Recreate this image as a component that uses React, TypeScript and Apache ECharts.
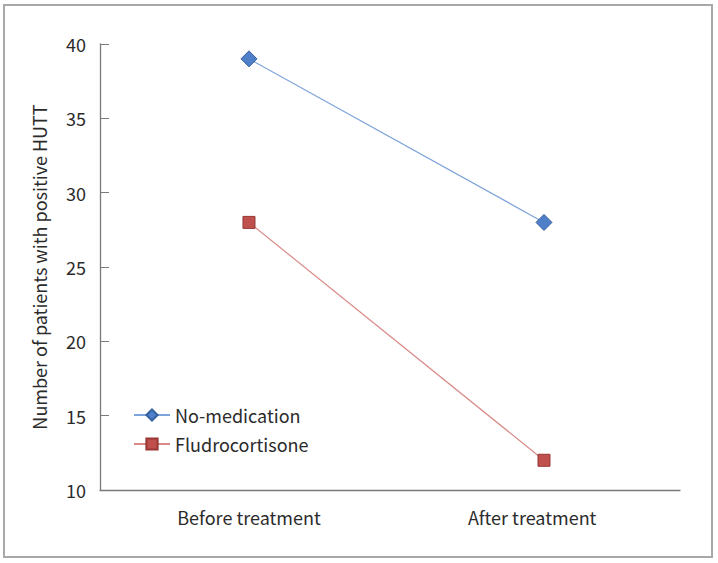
import React, { useEffect, useRef } from "react";
import * as echarts from "echarts";

const categories = ["Before treatment", "After treatment"];
const noMedication = [39, 28];
const fludrocortisone = [28, 12];
const yTicks = [10, 15, 20, 25, 30, 35, 40];
const labelPositions = [0, 0.96];

const FONT = "'Noto Sans CJK KR', 'Noto Sans', sans-serif";

export default function App() {
  const ref = useRef<HTMLDivElement>(null);
  useEffect(() => {
    if (!ref.current) return;
    const chart = echarts.init(ref.current, null, { renderer: "svg" });
    const toPts = (arr: number[]) => arr.map((v, i) => [i, v]);
    chart.setOption({
      animation: false,
      backgroundColor: "#ffffff",
      textStyle: { fontFamily: FONT },
      graphic: [
        {
          type: "rect",
          shape: { x: 4, y: 5, width: 708, height: 552 },
          style: { fill: "none", stroke: "#a8a8a8", lineWidth: 2 },
          silent: true,
        },
      ],
      grid: { left: 100, right: 38, top: 44, bottom: 73 },
      legend: {
        orient: "vertical",
        left: 128,
        top: 401,
        itemWidth: 36,
        itemHeight: 14,
        itemGap: 11,
        textStyle: { fontSize: 18, color: "#2b2b2b", fontFamily: FONT },
        data: ["No-medication", "Fludrocortisone"],
      },
      xAxis: {
        type: "value",
        min: -0.505,
        max: 1.461,
        splitLine: { show: false },
        axisLine: { show: true, onZero: false, lineStyle: { color: "#7a7a7a", width: 1.3 } },
        axisTick: { show: false },
        axisLabel: {
          customValues: labelPositions,
          formatter: (v: number) => categories[v < 0.5 ? 0 : 1],
          fontSize: 18,
          color: "#2b2b2b",
          margin: 18,
          fontFamily: FONT,
        },
      },
      yAxis: {
        type: "value",
        min: 10,
        max: 40,
        interval: 5,
        name: "Number of patients with positive HUTT",
        nameLocation: "middle",
        nameGap: 52,
        nameTextStyle: { fontSize: 18, color: "#2b2b2b", fontFamily: FONT },
        splitLine: { show: false },
        axisLine: { show: true, onZero: false, lineStyle: { color: "#7a7a7a", width: 1.3 } },
        axisTick: { show: true, inside: true, length: 9, lineStyle: { color: "#7a7a7a" } },
        axisLabel: {
          fontSize: 18,
          color: "#2b2b2b",
          margin: 14,
          fontFamily: FONT,
          customValues: yTicks,
        },
      },
      series: [
        {
          name: "No-medication",
          type: "line",
          data: toPts(noMedication),
          symbol: "diamond",
          symbolSize: 16,
          itemStyle: { color: "#4f7fc8", borderColor: "#35609f", borderWidth: 1 },
          lineStyle: { color: "#7ea3da", width: 1.2 },
        },
        {
          name: "Fludrocortisone",
          type: "line",
          data: toPts(fludrocortisone),
          symbol: "rect",
          symbolSize: 12,
          itemStyle: { color: "#c0504d", borderColor: "#983734", borderWidth: 1 },
          lineStyle: { color: "#d98a87", width: 1.2 },
        },
      ],
    });
    return () => chart.dispose();
  }, []);
  return (
    <div
      ref={ref}
      style={{ position: "fixed", left: 0, top: 0, width: 718, height: 563 }}
    />
  );
}
